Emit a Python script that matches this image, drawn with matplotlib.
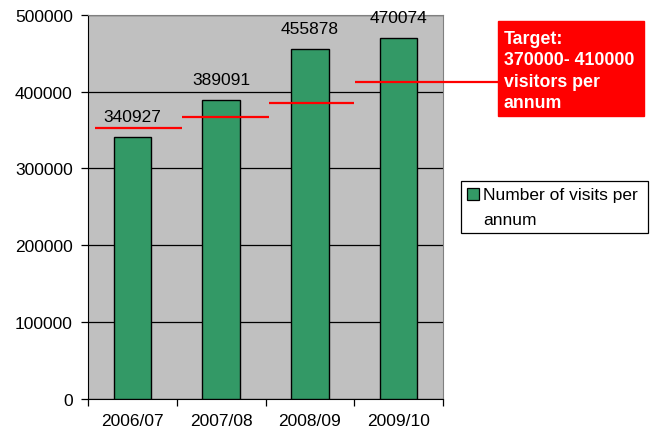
import matplotlib
matplotlib.use("Agg")
import matplotlib.pyplot as plt
from matplotlib.patches import Rectangle

plt.rcParams['font.family'] = ['Liberation Sans', 'DejaVu Sans']

categories = ["2006/07", "2007/08", "2008/09", "2009/10"]
visits = [340927, 389091, 455878, 470074]
target_steps = [352000, 367000, 385000, 413000]
target_edges = [(-0.42, 0.56), (0.56, 1.54), (1.54, 2.50), (2.51, 4.13)]
yticks = [0, 100000, 200000, 300000, 400000, 500000]
legend_label = "Number of visits per\nannum"
target_text = "Target:\n370000- 410000\nvisitors per\nannum"

FS = 12.5
W, H = 654, 439
BAR_COLOR = '#339966'

fig = plt.figure(figsize=(6.54, 4.39), dpi=100)
ax = fig.add_axes([88/W, 1-400/H, (443-88)/W, (400-15.7)/H])
ax.set_facecolor('#C0C0C0')

x = list(range(len(categories)))
bars = ax.bar(x, visits, width=0.42, color=BAR_COLOR, edgecolor='black',
              linewidth=1.0, zorder=3, label=legend_label)

ax.set_xlim(-0.5, 3.5)
ax.set_ylim(0, 500000)
ax.set_yticks(yticks)
ax.set_yticklabels([str(v) for v in yticks])
ax.yaxis.grid(True, color='black', linewidth=0.9, zorder=1)
ax.set_axisbelow(True)

ax.set_xticks([-0.5, 0.5, 1.5, 2.5, 3.5])
ax.set_xticklabels([])
ax.set_xticks(x, minor=True)
ax.set_xticklabels(categories, minor=True)
ax.tick_params(axis='x', which='minor', length=0, pad=10, labelsize=FS)
ax.tick_params(axis='x', which='major', length=5, direction='out', width=0.9)
ax.tick_params(axis='y', length=5, direction='out', width=0.9, labelsize=FS, pad=6)

for s in ['top', 'right']:
    ax.spines[s].set_color('#808080')
ax.spines['left'].set_color('black')
ax.spines['bottom'].set_color('black')

for xi, v in zip(x, visits):
    ax.annotate(str(v), (xi, v), xytext=(0, 14.4), textcoords='offset points',
                ha='center', va='center', fontsize=FS, zorder=5)

for (x0, x1), yv in zip(target_edges, target_steps):
    ax.plot([x0, x1], [yv, yv], color='#FF0000', linewidth=1.6, zorder=4,
            clip_on=False, solid_capstyle='butt')

# Target box
fig.patches.append(Rectangle((498/W, 1-117/H), (644-498)/W, (117-22)/H,
                             transform=fig.transFigure, facecolor='#FF0000',
                             edgecolor='#FF0000', zorder=5))
fig.text(504/W, 1-71.5/H, target_text, color='white', fontweight='bold',
         fontsize=12.8, va='center', ha='left', linespacing=1.32, zorder=6)

# Legend (drawn as a box with a swatch aligned to the first text line)
fig.patches.append(Rectangle((461/W, 1-234/H), (648-461)/W, (234-182)/H,
                             transform=fig.transFigure, facecolor='white',
                             edgecolor='black', linewidth=0.9, zorder=5))
fig.patches.append(Rectangle((467/W, 1-201/H), 12/W, 12/H,
                             transform=fig.transFigure, facecolor=BAR_COLOR,
                             edgecolor='black', linewidth=0.9, zorder=6))
fig.text(483/W, 1-208/H, legend_label, fontsize=FS, va='center', ha='left',
         linespacing=1.8, zorder=6)

fig.savefig("out.png", dpi=100)
